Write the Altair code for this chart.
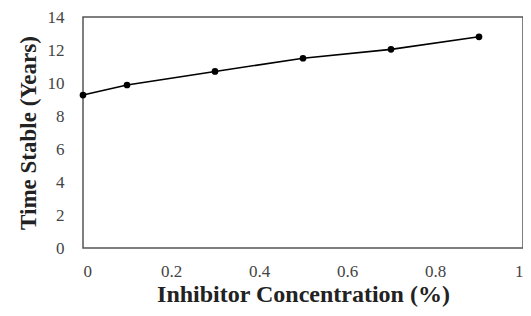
import altair as alt
import pandas as pd

conc = [0, 0.1, 0.3, 0.5, 0.7, 0.9]
years = [9.27, 9.88, 10.7, 11.5, 12.04, 12.8]
x_ticks = [0, 0.2, 0.4, 0.6, 0.8, 1]
y_ticks = [0, 2, 4, 6, 8, 10, 12, 14]

df = pd.DataFrame({"conc": conc, "years": years})

font = "Liberation Serif"

x = alt.X("conc:Q", scale=alt.Scale(domain=[0, 1], nice=False),
          axis=alt.Axis(title="Inhibitor Concentration (%)", values=x_ticks,
                        format="~g", labelPadding=15, titlePadding=3,
                        titleFontSize=24))
y = alt.Y("years:Q", scale=alt.Scale(domain=[0, 14], nice=False),
          axis=alt.Axis(title="Time Stable (Years)", values=y_ticks,
                        labelPadding=19, titlePadding=7,
                        titleFontSize=23))

line = alt.Chart(df).mark_line(color="black", strokeWidth=1.6).encode(x=x, y=y)
pts = alt.Chart(df).mark_point(filled=True, color="black", size=45, opacity=1).encode(x=x, y=y)

chart = (line + pts).properties(
    width=440, height=231,
    autosize=alt.AutoSizeParams(type="none"),
    padding={"left": 75, "top": 9, "right": 0, "bottom": 60},
).configure_view(
    stroke="#555", strokeWidth=1.5
).configure_axis(
    domain=False, ticks=False, grid=False,
    labelFont=font, labelFontSize=17, labelColor="#444",
    titleFont=font, titleFontWeight="bold", titleColor="#222",
)

chart.save("out.html", embed_options={"renderer": "svg", "actions": False})
